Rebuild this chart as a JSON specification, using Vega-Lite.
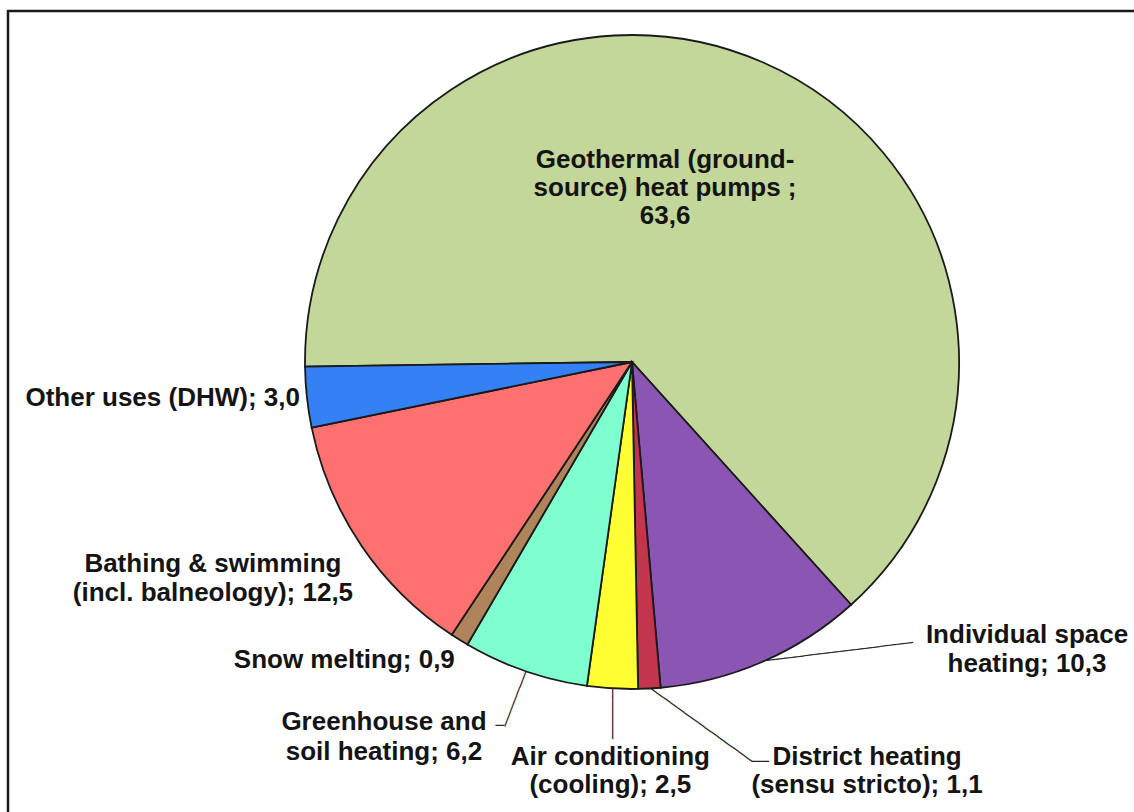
{
  "$schema": "https://vega.github.io/schema/vega-lite/v6.json",
  "width": 1134,
  "height": 812,
  "autosize": "none",
  "padding": 0,
  "background": "white",
  "config": {"view": {"stroke": null}},
  "data": {
    "values": [
      {"idx": 1, "cat": "Geothermal (ground-source) heat pumps", "value": 63.6, "label": "Geothermal (ground-\nsource) heat pumps ;\n63,6"},
      {"idx": 2, "cat": "Individual space heating", "value": 10.3, "label": "Individual space\nheating; 10,3"},
      {"idx": 3, "cat": "District heating (sensu stricto)", "value": 1.1, "label": "District heating\n(sensu stricto); 1,1"},
      {"idx": 4, "cat": "Air conditioning (cooling)", "value": 2.5, "label": "Air conditioning\n(cooling); 2,5"},
      {"idx": 5, "cat": "Greenhouse and soil heating", "value": 6.2, "label": "Greenhouse and\nsoil heating; 6,2"},
      {"idx": 6, "cat": "Snow melting", "value": 0.9, "label": "Snow melting; 0,9"},
      {"idx": 7, "cat": "Bathing & swimming (incl. balneology)", "value": 12.5, "label": "Bathing & swimming\n(incl. balneology); 12,5"},
      {"idx": 8, "cat": "Other uses (DHW)", "value": 3.0, "label": "Other uses (DHW); 3,0"}
    ]
  },
  "layer": [
    {
      "data": {"values": [{"frame": 1}]},
      "mark": {"type": "rect", "filled": false, "stroke": "#1a1a1a", "strokeWidth": 2.5, "x": 8, "y": 11, "x2": {"expr": "width+10"}, "y2": {"expr": "height+10"}},
      "encoding": {}
    },
    {
      "encoding": {
        "theta": {"field": "value", "type": "quantitative", "stack": true, "scale": {"range": [-1.5847, 4.6985]}},
        "order": {"field": "idx", "type": "quantitative"},
        "detail": {"field": "cat", "type": "nominal"}
      },
      "layer": [
        {
          "mark": {"type": "arc", "radius": 327, "stroke": "#1a1a1a", "strokeWidth": 1.8, "x": {"expr": "width/2+65"}, "y": {"expr": "height/2-44"}},
          "encoding": {
            "color": {
              "field": "cat", "type": "nominal", "legend": null,
              "scale": {
                "domain": ["Geothermal (ground-source) heat pumps", "Individual space heating", "District heating (sensu stricto)", "Air conditioning (cooling)", "Greenhouse and soil heating", "Snow melting", "Bathing & swimming (incl. balneology)", "Other uses (DHW)"],
                "range": ["#C4D79B", "#8B55B3", "#C2354C", "#FFFF33", "#7FFFD0", "#B0845A", "#FF7070", "#3381F5"]
              }
            }
          }
        },
        {
          "mark": {"type": "text", "font": "Liberation Sans", "fontWeight": "bold", "fontSize": 26, "fill": "#141414", "lineBreak": "\n", "lineHeight": 28, "align": "center", "baseline": "middle", "radius": 220.2, "dx": -55, "x": {"expr": "width/2+65"}, "y": {"expr": "height/2-44"}},
          "encoding": {"text": {"condition": {"test": "datum.idx === 1", "field": "label"}, "value": ""}}
        },
        {
          "mark": {"type": "text", "font": "Liberation Sans", "fontWeight": "bold", "fontSize": 26, "fill": "#141414", "lineBreak": "\n", "lineHeight": 28.5, "align": "center", "baseline": "middle", "radius": 298, "dx": 276, "x": {"expr": "width/2+65"}, "y": {"expr": "height/2-44"}},
          "encoding": {"text": {"condition": {"test": "datum.idx === 2", "field": "label"}, "value": ""}}
        },
        {
          "mark": {"type": "text", "font": "Liberation Sans", "fontWeight": "bold", "fontSize": 26, "fill": "#141414", "lineBreak": "\n", "lineHeight": 27.5, "align": "center", "baseline": "middle", "radius": 396, "dx": 214, "x": {"expr": "width/2+65"}, "y": {"expr": "height/2-44"}},
          "encoding": {"text": {"condition": {"test": "datum.idx === 3", "field": "label"}, "value": ""}}
        },
        {
          "mark": {"type": "text", "font": "Liberation Sans", "fontWeight": "bold", "fontSize": 26, "fill": "#141414", "lineBreak": "\n", "lineHeight": 27.5, "align": "center", "baseline": "middle", "radius": 396, "dx": 2, "x": {"expr": "width/2+65"}, "y": {"expr": "height/2-44"}},
          "encoding": {"text": {"condition": {"test": "datum.idx === 4", "field": "label"}, "value": ""}}
        },
        {
          "mark": {"type": "text", "font": "Liberation Sans", "fontWeight": "bold", "fontSize": 26, "fill": "#141414", "lineBreak": "\n", "lineHeight": 29.5, "align": "center", "baseline": "middle", "radius": 381.1, "dx": -123.5, "x": {"expr": "width/2+65"}, "y": {"expr": "height/2-44"}},
          "encoding": {"text": {"condition": {"test": "datum.idx === 5", "field": "label"}, "value": ""}}
        },
        {
          "mark": {"type": "text", "font": "Liberation Sans", "fontWeight": "bold", "fontSize": 26, "fill": "#141414", "lineBreak": "\n", "align": "right", "baseline": "middle", "radius": 351, "dx": 8, "x": {"expr": "width/2+65"}, "y": {"expr": "height/2-44"}},
          "encoding": {"text": {"condition": {"test": "datum.idx === 6", "field": "label"}, "value": ""}}
        },
        {
          "mark": {"type": "text", "font": "Liberation Sans", "fontWeight": "bold", "fontSize": 26, "fill": "#141414", "lineBreak": "\n", "lineHeight": 28.5, "align": "center", "baseline": "middle", "radius": 361, "dx": -120, "x": {"expr": "width/2+65"}, "y": {"expr": "height/2-44"}},
          "encoding": {"text": {"condition": {"test": "datum.idx === 7", "field": "label"}, "value": ""}}
        },
        {
          "mark": {"type": "text", "font": "Liberation Sans", "fontWeight": "bold", "fontSize": 26, "fill": "#141414", "lineBreak": "\n", "align": "right", "baseline": "middle", "radius": 334, "x": {"expr": "width/2+65"}, "y": {"expr": "height/2-44"}},
          "encoding": {"text": {"condition": {"test": "datum.idx === 8", "field": "label"}, "value": ""}}
        },
        {
          "mark": {"type": "text", "font": "DejaVu Sans Mono", "fontSize": 14, "fill": "#262626", "align": "left", "baseline": "middle", "radius": 327, "angle": -7, "x": {"expr": "width/2+65"}, "y": {"expr": "height/2-44"}},
          "encoding": {"text": {"condition": {"test": "datum.idx === 2", "value": "──────────────────"}, "value": ""}}
        },
        {
          "mark": {"type": "text", "font": "DejaVu Sans Mono", "fontSize": 14, "fill": "#262626", "align": "left", "baseline": "middle", "radius": 327, "angle": 35.7, "x": {"expr": "width/2+65"}, "y": {"expr": "height/2-44"}},
          "encoding": {"text": {"condition": {"test": "datum.idx === 3", "value": "───────────────"}, "value": ""}}
        },
        {
          "mark": {"type": "text", "font": "DejaVu Sans Mono", "fontSize": 14, "fill": "#262626", "align": "left", "baseline": "middle", "radius": 327, "dx": 102.6, "dy": 73.8, "x": {"expr": "width/2+65"}, "y": {"expr": "height/2-44"}},
          "encoding": {"text": {"condition": {"test": "datum.idx === 3", "value": "──"}, "value": ""}}
        },
        {
          "mark": {"type": "text", "font": "DejaVu Sans Mono", "fontSize": 14, "fill": "#262626", "align": "left", "baseline": "middle", "radius": 327, "angle": 90, "x": {"expr": "width/2+65"}, "y": {"expr": "height/2-44"}},
          "encoding": {"text": {"condition": {"test": "datum.idx === 4", "value": "──────"}, "value": ""}}
        },
        {
          "mark": {"type": "text", "font": "DejaVu Sans Mono", "fontSize": 14, "fill": "#262626", "align": "left", "baseline": "middle", "radius": 327, "angle": 111, "x": {"expr": "width/2+65"}, "y": {"expr": "height/2-44"}},
          "encoding": {"text": {"condition": {"test": "datum.idx === 5", "value": "───────"}, "value": ""}}
        },
        {
          "mark": {"type": "text", "font": "DejaVu Sans Mono", "fontSize": 14, "fill": "#262626", "align": "right", "baseline": "middle", "radius": 327, "dx": -21.1, "dy": 55.1, "x": {"expr": "width/2+65"}, "y": {"expr": "height/2-44"}},
          "encoding": {"text": {"condition": {"test": "datum.idx === 5", "value": "─"}, "value": ""}}
        }
      ]
    }
  ]
}
